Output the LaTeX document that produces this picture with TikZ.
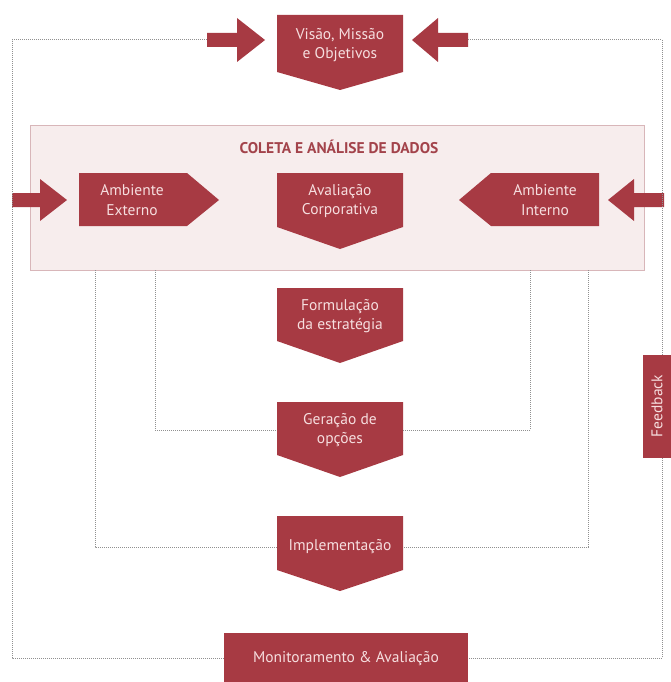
\documentclass[tikz,border=0pt]{standalone}
\usepackage{fontspec}
\setmainfont{PT Sans}
\definecolor{boxred}{HTML}{A73A43}
\definecolor{boxtext}{HTML}{F6DEDF}
\definecolor{bgpink}{HTML}{F7EDED}
\definecolor{bgline}{HTML}{D8B6B9}
\definecolor{titlered}{HTML}{A3434B}
\definecolor{dotgray}{HTML}{909090}
\tikzset{
  redshape/.style={fill=boxred,draw=none},
  boxlabel/.style={text=boxtext,font=\fontsize{15.5}{19.5}\selectfont,align=center,inner sep=0pt},
  feedline/.style={draw=dotgray,densely dotted,line width=1pt},
}
\begin{document}
\begin{tikzpicture}[x=1pt,y=-1pt]
\useasboundingbox (0,0) rectangle (670,682);
% background panel
\path[fill=bgpink,draw=bgline,line width=0.8pt] (30,125) rectangle (644,270);
\node[text=titlered,font=\bfseries\fontsize{15.5}{18}\selectfont] (title) at (339,147) {COLETA E ANÁLISE DE DADOS};

% down-pointing boxes
\path[redshape] (277,15) -- (403,15) -- (403,72) -- (340,90) -- (277,72) -- cycle;
\node[boxlabel] (vis) at (340,45) {Visão, Missão\\e Objetivos};
\path[redshape] (277,173) -- (403,173) -- (403,227) -- (340,249) -- (277,227) -- cycle;
\node[boxlabel] (aval) at (340,201) {Avaliação\\Corporativa};
\path[redshape] (277,288) -- (403,288) -- (403,341) -- (340,363) -- (277,341) -- cycle;
\node[boxlabel] (form) at (340,316) {Formulação\\da estratégia};
\path[redshape] (277,402) -- (403,402) -- (403,455) -- (340,477) -- (277,455) -- cycle;
\node[boxlabel] (ger) at (340,430) {Geração de\\opções};
\path[redshape] (277,516) -- (403,516) -- (403,570) -- (340,591) -- (277,570) -- cycle;
\node[boxlabel] (impl) at (340,547) {Implementação};

% side pentagons
\path[redshape] (79,173) -- (187,173) -- (219,200) -- (187,226) -- (79,226) -- cycle;
\node[boxlabel] (ext) at (132,200) {Ambiente\\Externo};
\path[redshape] (599,173) -- (491,173) -- (459,200) -- (491,226) -- (599,226) -- cycle;
\node[boxlabel] (int) at (545,200) {Ambiente\\Interno};

% monitoring box
\path[redshape] (224,633) rectangle (468,682);
\node[boxlabel] (mon) at (346,659) {Monitoramento \& Avaliação};

% feedback box
\path[redshape] (643,355) rectangle (671,458);
\node[boxlabel,rotate=90] (fb) at (657,406) {Feedback};

% block arrows
\path[redshape] (207,33) -- (237,33) -- (237,18) -- (265,40) -- (237,62) -- (237,47) -- (207,47) -- cycle;
\path[redshape] (468,33) -- (438,33) -- (438,18) -- (412,40) -- (438,62) -- (438,47) -- (468,47) -- cycle;
\path[redshape] (12,193) -- (40,193) -- (40,179) -- (67,200) -- (40,221) -- (40,207) -- (12,207) -- cycle;
\path[redshape] (664,193) -- (634,193) -- (634,179) -- (608,200) -- (634,221) -- (634,207) -- (664,207) -- cycle;

% coordinates for feedback loops
\coordinate (tl) at (207,40);
\coordinate (tr) at (468,40);
\coordinate (ml) at (224,658);
\coordinate (mr) at (468,658);
\coordinate (fbt) at (662,355);
\coordinate (fbb) at (662,458);
\coordinate (pl1) at (95,270);
\coordinate (pl2) at (155,270);
\coordinate (pr1) at (530,270);
\coordinate (pr2) at (588,270);
\coordinate (gl) at (277,430);
\coordinate (gr) at (403,430);
\coordinate (il) at (277,547);
\coordinate (ir) at (403,547);

\draw[feedline] (tl) -- (12,40) -- (12,658) -- (ml);
\draw[feedline] (tr) -- (662,40) -- (fbt);
\draw[feedline] (fbb) -- (662,658) -- (mr);
\draw[feedline] (pl2) -- (155,430) -- (gl);
\draw[feedline] (pr1) -- (530,430) -- (gr);
\draw[feedline] (pl1) -- (95,547) -- (il);
\draw[feedline] (pr2) -- (588,547) -- (ir);
\end{tikzpicture}
\end{document}
